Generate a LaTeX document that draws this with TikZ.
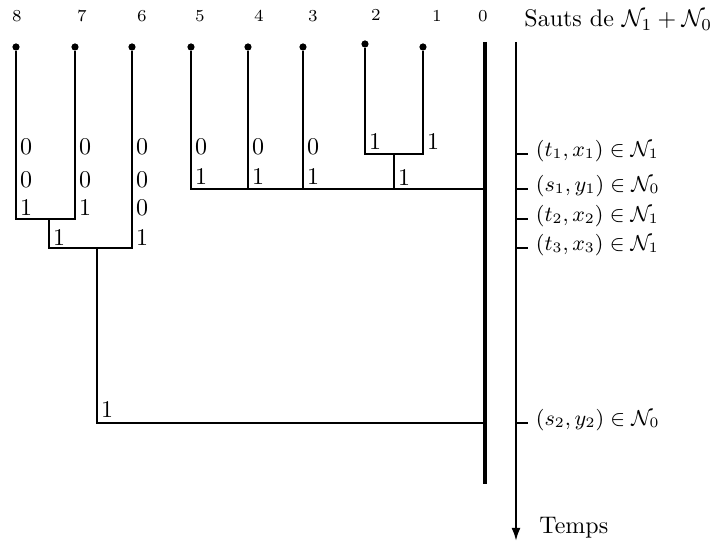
\documentclass[tikz,border=0pt]{standalone}
\usepackage{amsmath}
\usepackage{tikz}
\usetikzlibrary{arrows.meta,positioning}

\begin{document}
\begin{tikzpicture}[x=0.4167pt,y=-0.4167pt,>={Latex[length=5.5pt,width=3.8pt]},
    branch/.style={line width=0.9pt},
    leaf/.style={circle,fill,inner sep=0pt,minimum size=3pt},
    num/.style={font=\scriptsize,inner sep=0pt},
    bit/.style={anchor=west,inner sep=1.5pt},
    ev/.style={anchor=west,inner sep=1pt,font=\small}]

\useasboundingbox (0,0) rectangle (722,541);

% individus en haut
\foreach \n/\x/\lx in {8/16/17,7/75/82,6/132/142,5/191/200,4/248/259,3/303/313,1/423/437}{
    \node[leaf] (L\n) at (\x,47) {};
    \node[num] (N\n) at (\lx,16) {\n};
}
\node[leaf] (L2) at (365,44) {};
\node[num] (N2) at (376,15) {2};
\node[num] (N0) at (483,16) {0};

% lignee 0 et axe du temps
\coordinate (top0) at (485,42);
\coordinate (bot0) at (485,484);
\draw[line width=1.8pt] (top0) -- (bot0);
\coordinate (ttop) at (516,42);
\coordinate (tbot) at (516,541);
\draw[line width=0.9pt,->] (ttop) -- (tbot);
\node[anchor=base west,inner sep=0pt] (temps) at (539,534) {Temps};
\node[anchor=base west,inner sep=0pt] (sauts) at (524,27) {Sauts de $\mathcal{N}_1+\mathcal{N}_0$};

% points de branchement
\coordinate (J8) at (16,219);
\coordinate (J7) at (75,219);
\coordinate (M87) at (49,219);
\coordinate (K87) at (49,248);
\coordinate (J6) at (132,248);
\coordinate (M876) at (97,248);
\coordinate (K876) at (97,423);
\coordinate (S2) at (485,423);
\coordinate (J2) at (365,154);
\coordinate (J1) at (423,154);
\coordinate (M21) at (394,154);
\coordinate (K21) at (394,189);
\coordinate (J5) at (191,189);
\coordinate (J4) at (248,189);
\coordinate (J3) at (303,189);
\coordinate (S1) at (485,189);

% arbre
\draw[branch] (L8) -- (J8) -- (J7) -- (L7);
\draw[branch] (M87) -- (K87) -- (J6) -- (L6);
\draw[branch] (M876) -- (K876) -- (S2);
\draw[branch] (L2) -- (J2) -- (J1) -- (L1);
\draw[branch] (M21) -- (K21);
\draw[branch] (L5) -- (J5) -- (S1);
\draw[branch] (L4) -- (J4);
\draw[branch] (L3) -- (J3);

% etiquettes 0/1
\foreach \x/\y/\b in {16/147/0,16/180/0,16/208/1,
                      75/147/0,75/180/0,75/208/1,
                      132/147/0,132/180/0,132/208/0,132/238/1,
                      49/238/1,97/410/1,
                      191/147/0,191/177/1,248/147/0,248/177/1,303/147/0,303/177/1,
                      365/142/1,423/142/1,394/178/1}
    \node[bit] at (\x,\y) {\b};

% sauts sur l'axe
\foreach \y/\lab [count=\i] in {154/{(t_1,x_1)\in\mathcal{N}_1},
                                189/{(s_1,y_1)\in\mathcal{N}_0},
                                219/{(t_2,x_2)\in\mathcal{N}_1},
                                248/{(t_3,x_3)\in\mathcal{N}_1},
                                423/{(s_2,y_2)\in\mathcal{N}_0}}{
    \coordinate (T\i) at (516,\y);
    \node[ev] (E\i) at (533,\y-3) {$\lab$};
    \draw[line width=0.9pt] (T\i) -- ++(12,0);
}

\end{tikzpicture}
\end{document}
